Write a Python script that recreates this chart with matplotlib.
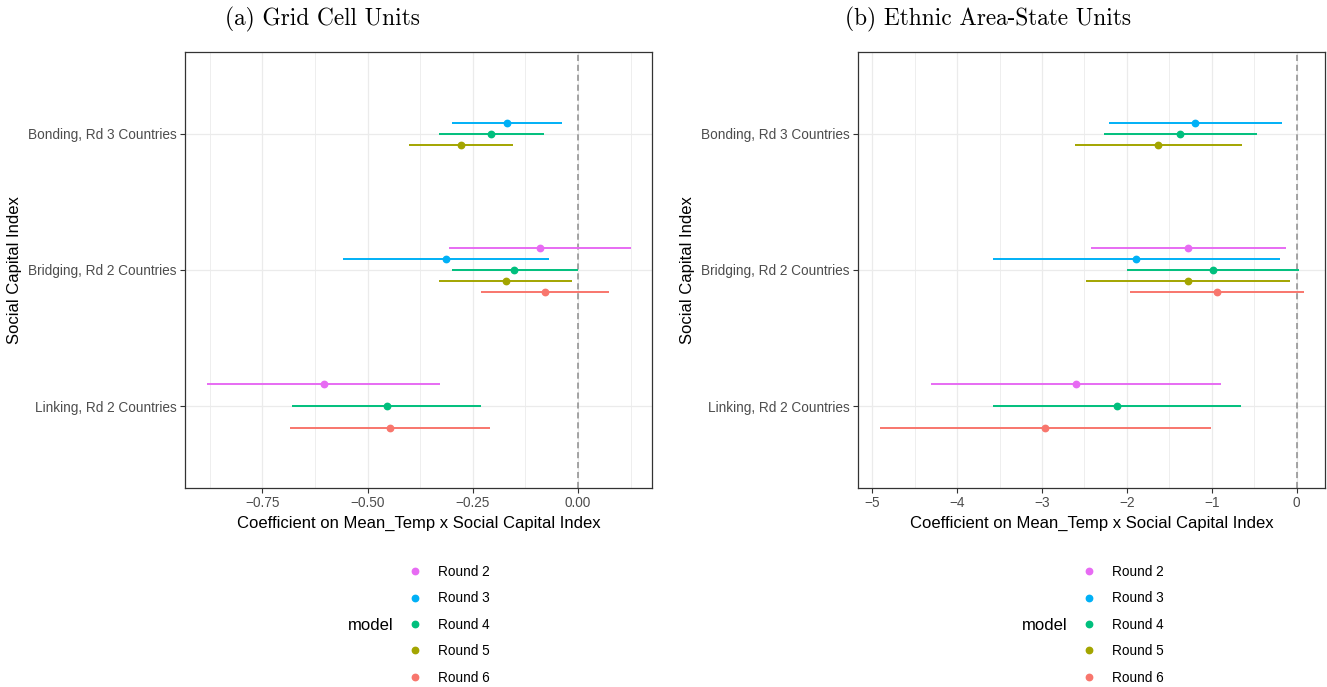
import matplotlib
matplotlib.use("Agg")
import matplotlib.pyplot as plt
import numpy as np
from matplotlib.lines import Line2D

plt.rcParams['font.family'] = ['Liberation Sans', 'DejaVu Sans']

# categories (bottom to top) and rounds
categories = ["Linking, Rd 2 Countries", "Bridging, Rd 2 Countries", "Bonding, Rd 3 Countries"]
rounds = ["Round 2", "Round 3", "Round 4", "Round 5", "Round 6"]
colors = ["#E76BF3", "#00B0F6", "#00BF7D", "#A3A500", "#F8766D"]

nan = np.nan
# rows = rounds, cols = categories (Linking, Bridging, Bonding)
grid_est = [[-0.604, -0.090, nan],
            [nan, -0.313, -0.168],
            [-0.455, -0.151, -0.206],
            [nan, -0.171, -0.278],
            [-0.447, -0.079, nan]]
grid_lo = [[-0.881, -0.306, nan],
           [nan, -0.558, -0.300],
           [-0.680, -0.300, -0.330],
           [nan, -0.330, -0.401],
           [-0.684, -0.231, nan]]
grid_hi = [[-0.327, 0.127, nan],
           [nan, -0.068, -0.037],
           [-0.230, -0.001, -0.080],
           [nan, -0.014, -0.155],
           [-0.210, 0.074, nan]]

eth_est = [[-2.600, -1.276, nan],
           [nan, -1.888, -1.193],
           [-2.120, -0.986, -1.370],
           [nan, -1.280, -1.629],
           [-2.960, -0.939, nan]]
eth_lo = [[-4.307, -2.423, nan],
          [nan, -3.577, -2.211],
          [-3.577, -1.994, -2.270],
          [nan, -2.482, -2.611],
          [-4.912, -1.959, nan]]
eth_hi = [[-0.892, -0.121, nan],
          [nan, -0.192, -0.173],
          [-0.660, 0.024, -0.468],
          [nan, -0.074, -0.640],
          [-1.013, 0.082, nan]]

W, H = 1327, 687
fig = plt.figure(figsize=(W / 100, H / 100), dpi=100)


def px_axes(x0, x1, y0, y1):
    return fig.add_axes([x0 / W, 1 - y1 / H, (x1 - x0) / W, (y1 - y0) / H])


def draw_panel(ax, est, lo, hi, major, minor):
    offsets = [0.16, 0.08, 0.0, -0.08, -0.16]
    ypos = np.arange(1, len(categories) + 1)
    ax.axvline(0, color="#8C8C8C", lw=1.1, ls=(0, (4, 2.5)), zorder=2)
    for i in range(len(rounds)):
        y = ypos + offsets[i]
        e = np.array(est[i]); l = np.array(lo[i]); h = np.array(hi[i])
        ok = ~np.isnan(e)
        ax.hlines(y[ok], l[ok], h[ok], color=colors[i], lw=1.4, zorder=3)
        ax.plot(e[ok], y[ok], "o", color=colors[i], ms=4.6, zorder=4, label=rounds[i])
    ax.set_yticks(ypos)
    ax.set_yticklabels(categories)
    ax.set_ylim(0.4, 3.6)
    ax.set_xticks(major)
    ax.set_xticks(minor, minor=True)
    ax.grid(True, which="major", color="#EBEBEB", lw=0.9, zorder=0)
    ax.grid(True, which="minor", axis="x", color="#EBEBEB", lw=0.6, zorder=0)
    ax.set_axisbelow(True)
    for s in ax.spines.values():
        s.set_color("#333333")
        s.set_linewidth(0.9)
    ax.tick_params(axis="both", which="major", length=3.5, width=0.8, color="#333333",
                   labelcolor="#4D4D4D", labelsize=9.8, pad=2.5)
    ax.tick_params(axis="both", which="minor", length=0)
    ax.set_xlabel("Coefficient on Mean_Temp x Social Capital Index", fontsize=12, color="black", labelpad=4)
    ax.set_ylabel("Social Capital Index", fontsize=12, color="black", labelpad=4)


ax1 = px_axes(185, 652, 52, 488)
draw_panel(ax1, grid_est, grid_lo, grid_hi, [-0.75, -0.5, -0.25, 0.0],
           [-0.875, -0.625, -0.375, -0.125, 0.125])
ax1.set_xlim(-0.934, 0.176)
ax1.set_xticklabels(["\u22120.75", "\u22120.50", "\u22120.25", "0.00"])

ax2 = px_axes(858, 1325, 52, 488)
draw_panel(ax2, eth_est, eth_lo, eth_hi, [-5, -4, -3, -2, -1, 0],
           [-4.5, -3.5, -2.5, -1.5, -0.5])
ax2.set_xlim(-5.167, 0.334)
ax2.set_xticklabels(["\u22125", "\u22124", "\u22123", "\u22122", "\u22121", "0"])

# panel titles
fig.text(225 / W, 1 - 19 / H, "(a) Grid Cell Units", family="cmr10", fontsize=16.8, ha="left", va="center")
fig.text(845 / W, 1 - 19 / H, "(b) Ethnic Area-State Units", family="cmr10", fontsize=16.8, ha="left", va="center")

# legends
for ax, tx, lx in [(ax1, 348, 408), (ax2, 1022, 1082)]:
    handles = [Line2D([], [], ls="none", marker="o", ms=4.6, color=c) for c in colors]
    leg = fig.legend(handles, rounds, loc="upper left", bbox_to_anchor=(lx / W, 1 - 565 / H),
                     frameon=False, fontsize=9.8, handlelength=1.0, handletextpad=1.2,
                     labelspacing=0.91, borderpad=0, borderaxespad=0)
    fig.text(tx / W, 1 - 625 / H, "model", fontsize=12, ha="left", va="center")

fig.savefig("out.png", dpi=100)
